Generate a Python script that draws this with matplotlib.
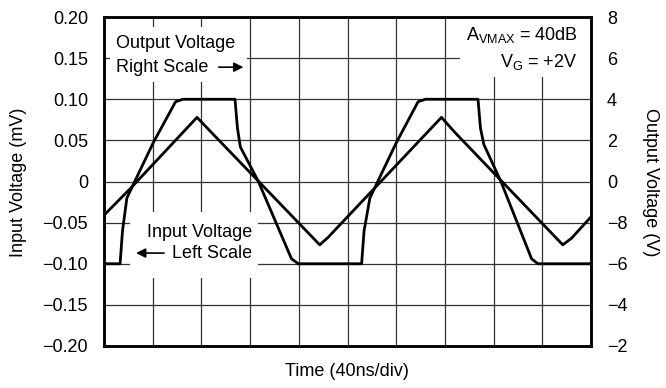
import matplotlib.pyplot as plt
from matplotlib.patches import Rectangle

plt.rcParams['font.family'] = ['Liberation Sans', 'DejaVu Sans']

# time axis in divisions (40ns/div)
in_t = [0, 0.55, 1.91, 2.2, 4.43, 4.6, 6.93, 7.2, 9.42, 9.6, 10]
in_v = [-0.041, -0.008, 0.078, 0.060, -0.077, -0.068, 0.078, 0.060, -0.077, -0.069, -0.043]

# output voltage expressed on the left scale (right scale / 40)
out_t = [0, 0.33, 0.38, 0.47, 1.01, 1.47, 1.62, 2.69, 2.74, 2.80, 3.17,
         3.85, 3.99, 5.29, 5.34, 5.46, 6.0, 6.45, 6.6, 7.68, 7.73, 7.80,
         8.15, 8.78, 8.91, 10]
out_v = [-0.10, -0.10, -0.06, -0.020, 0.047, 0.097, 0.100, 0.100, 0.065,
         0.042, 0.0, -0.094, -0.100, -0.100, -0.06, -0.020, 0.047, 0.097,
         0.100, 0.100, 0.065, 0.045, 0.0, -0.094, -0.100, -0.100]

left_ticks = [-0.20, -0.15, -0.10, -0.05, 0, 0.05, 0.10, 0.15, 0.20]
left_labels = ['\u22120.20', '\u22120.15', '\u22120.10', '\u22120.05', '0',
               '0.05', '0.10', '0.15', '0.20']
right_labels = ['\u22122', '\u22124', '\u22126', '\u22128', '0', '2', '4', '6', '8']

fs = 13

fig = plt.figure(figsize=(6.66, 3.88), dpi=100)
ax = fig.add_axes([104 / 666, 1 - 346 / 388, 487 / 666, 329 / 388])

ax.set_xlim(0, 10)
ax.set_ylim(-0.20, 0.20)
ax.set_xticks(range(11))
ax.set_xticklabels([])
ax.set_yticks(left_ticks)
ax.set_yticklabels(left_labels)
ax.tick_params(length=0, labelsize=fs, pad=11.5)
ax.grid(True, color='#333333', linewidth=0.9)
ax.set_axisbelow(True)
for s in ax.spines.values():
    s.set_linewidth(1.8)

ax.plot(in_t, in_v, color='black', linewidth=2.0, zorder=5)
ax.plot(out_t, out_v, color='black', linewidth=2.0, zorder=5)

# white boxes that hide the grid behind the notes
for x0, y0, w, h in [(0.12, 0.121, 2.82, 0.067), (7.31, 0.127, 2.69, 0.073),
                     (0.53, -0.1175, 2.63, 0.0805)]:
    ax.add_patch(Rectangle((x0, y0), w, h, facecolor='white', edgecolor='none', zorder=2))

ax.text(0.25, 0.168, 'Output Voltage', fontsize=fs, va='center', ha='left', zorder=3)
ax.text(0.25, 0.139, 'Right Scale', fontsize=fs, va='center', ha='left', zorder=3)
ax.annotate('', xy=(2.92, 0.139), xytext=(2.30, 0.139), zorder=3,
            arrowprops=dict(arrowstyle='-|>', color='black', lw=1.2, mutation_scale=14))

ax.text(3.04, -0.0616, 'Input Voltage', fontsize=fs, va='center', ha='right', zorder=3)
ax.text(3.04, -0.087, 'Left Scale', fontsize=fs, va='center', ha='right', zorder=3)
ax.annotate('', xy=(0.60, -0.087), xytext=(1.29, -0.087), zorder=3,
            arrowprops=dict(arrowstyle='-|>', color='black', lw=1.2, mutation_scale=14))

ax.text(9.73, 0.178, r'A$_{\mathregular{VMAX}}$ = 40dB', fontsize=fs, va='center', ha='right', zorder=3)
ax.text(9.73, 0.145, r'V$_{\mathregular{G}}$ = +2V', fontsize=fs, va='center', ha='right', zorder=3)

ax2 = ax.twinx()
ax2.set_ylim(-0.20, 0.20)
ax2.set_yticks(left_ticks)
ax2.set_yticklabels(right_labels)
ax2.tick_params(length=0, labelsize=fs, pad=11.5)
for s in ax2.spines.values():
    s.set_linewidth(1.8)

fig.text(347 / 666, 1 - 372 / 388, 'Time (40ns/div)', fontsize=fs, ha='center', va='center')
fig.text(19 / 666, 1 - 182 / 388, 'Input Voltage (mV)', fontsize=fs, ha='center', va='center',
         rotation=90)
fig.text(650 / 666, 1 - 182 / 388, 'Output Voltage (V)', fontsize=fs, ha='center', va='center',
         rotation=270)

fig.savefig('out.png', dpi=100)
